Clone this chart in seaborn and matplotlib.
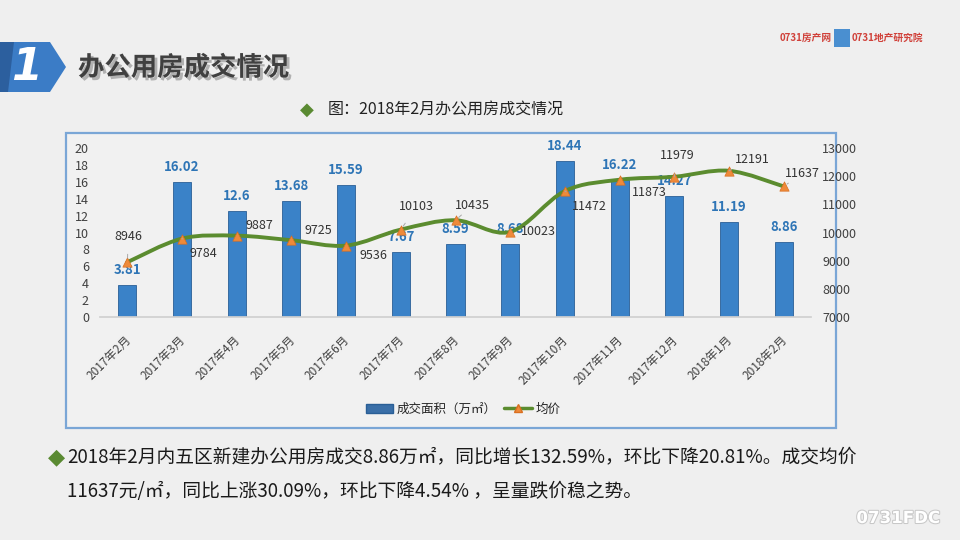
import numpy as np
import pandas as pd
import matplotlib
matplotlib.use("Agg")
import matplotlib.pyplot as plt
import matplotlib.patches as mpatches
import matplotlib.patheffects as pe
import matplotlib.transforms as mtransforms
from matplotlib.path import Path
from matplotlib.lines import Line2D
import seaborn as sns

months = ["2017年2月", "2017年3月", "2017年4月", "2017年5月", "2017年6月", "2017年7月",
          "2017年8月", "2017年9月", "2017年10月", "2017年11月", "2017年12月", "2018年1月", "2018年2月"]
area = [3.81, 16.02, 12.6, 13.68, 15.59, 7.67, 8.59, 8.68, 18.44, 16.22, 14.27, 11.19, 8.86]
price = [8946, 9784, 9887, 9725, 9536, 10103, 10435, 10023, 11472, 11873, 11979, 12191, 11637]
left_ticks = list(range(0, 21, 2))
right_ticks = list(range(7000, 13001, 1000))

sns.set_theme(style="white")
plt.rcParams["font.family"] = ["Noto Sans CJK SC", "DejaVu Sans"]
plt.rcParams["axes.unicode_minus"] = False

BG = "#efefef"
W, H = 960, 540
fig = plt.figure(figsize=(9.6, 5.4), dpi=100, facecolor=BG)

def fx(x):
    return x / W

def fy(y):
    return 1 - y / H

# chart frame
frame = mpatches.Rectangle((fx(66), fy(428)), fx(836) - fx(66), fy(133) - fy(428),
                           transform=fig.transFigure, facecolor="#f1f1f1",
                           edgecolor="#7aa6d6", linewidth=1.6, zorder=-5)
fig.patches.append(frame)

ax = fig.add_axes([fx(100), fy(317), fx(811) - fx(100), fy(148) - fy(317)])
ax.set_facecolor("none")
ax.set_zorder(1)

df = pd.DataFrame({"month": months, "area": area, "price": price})
sns.barplot(data=df, x="month", y="area", color="#3a82c8", width=0.33,
            saturation=1, edgecolor="#2a5f96", linewidth=0.6, ax=ax, zorder=2)
ax.set_xlim(-0.5, len(months) - 0.5)
ax.set_ylim(0, 20)
ax.set_yticks(left_ticks)
ax.set_yticklabels([str(t) for t in left_ticks], fontsize=9, color="#404040")
ax.set_xlabel("")
ax.set_ylabel("")
for s in ["top", "right", "left"]:
    ax.spines[s].set_visible(False)
ax.spines["bottom"].set_color("#d0d0d0")
ax.tick_params(axis="y", length=0, pad=8)
ax.tick_params(axis="x", which="major", length=0, pad=12)
ax.set_xticks(np.arange(-0.5, len(months), 1.0), minor=True)
ax.tick_params(axis="x", which="minor", length=4, color="#d0d0d0", direction="out")
ax.set_xticks(range(len(months)))
ax.set_xticklabels(months, rotation=45, ha="right", fontsize=8.5, color="#404040",
                   fontweight="medium")
shift = mtransforms.ScaledTranslation(6 / 100, 0, fig.dpi_scale_trans)
for lbl in ax.get_xticklabels():
    lbl.set_transform(lbl.get_transform() + shift)

for i, v in enumerate(area):
    ax.annotate(f"{v:g}", (i, v), xytext=(0, 15), textcoords="offset pixels",
                ha="center", va="center", fontsize=9.5, fontweight="bold",
                color="#2e75b6", zorder=5)

ax2 = ax.twinx()
ax2.set_zorder(2)
ax2.set_facecolor("none")
ax2.set_ylim(7000, 13000)
ax2.set_yticks(right_ticks)
ax2.set_yticklabels([str(t) for t in right_ticks], fontsize=9, color="#404040")
ax2.tick_params(axis="y", length=0, pad=8)
for s in ["top", "right", "left", "bottom"]:
    ax2.spines[s].set_visible(False)

# smoothed line (Catmull-Rom as Bezier in data coordinates)
xs = np.arange(len(price), dtype=float)
ys = np.array(price, dtype=float)
pts = np.column_stack([xs, ys])
verts = [tuple(pts[0])]
codes = [Path.MOVETO]
n = len(pts)
for i in range(n - 1):
    p0 = pts[i - 1] if i > 0 else pts[i]
    p1 = pts[i]
    p2 = pts[i + 1]
    p3 = pts[i + 2] if i + 2 < n else pts[i + 1]
    c1 = p1 + (p2 - p0) / 6.0
    c2 = p2 - (p3 - p1) / 6.0
    verts += [tuple(c1), tuple(c2), tuple(p2)]
    codes += [Path.CURVE4] * 3
ax2.add_patch(mpatches.PathPatch(Path(verts, codes), facecolor="none",
                                 edgecolor="#5b8c2f", linewidth=2.8, zorder=3,
                                 capstyle="round", joinstyle="round"))
sns.scatterplot(x=xs, y=ys, marker="^", s=45, color="#ee8a3a", edgecolor="#d96f20",
                linewidth=0.5, ax=ax2, zorder=4, legend=False)
ax2.set_xlim(-0.5, len(months) - 0.5)

# price label offsets (pixels) and whether a leader line is drawn
offsets = [(1, 26, True), (21, -15, True), (23, 10, False), (27, 10, False),
           (27, -10, False), (16, 23, True), (17, 15, True), (28, 0, False),
           (24, -15, True), (30, -13, False), (3, 21, True), (23, 11, True), (19, 13, True)]
for i, v in enumerate(price):
    dx, dy, lead = offsets[i]
    kw = {}
    if lead:
        kw["arrowprops"] = dict(arrowstyle="-", color="#a8a8a8", lw=0.7,
                                shrinkA=6, shrinkB=3)
    ax2.annotate(str(v), (i, v), xytext=(dx, dy), textcoords="offset pixels",
                 ha="center", va="center", fontsize=9, color="#333333",
                 zorder=6, **kw)

# legend
handles = [mpatches.Patch(facecolor="#3a6fa8", edgecolor="#2a5f96"),
           Line2D([0], [0], color="#5b8c2f", lw=2.5, marker="^",
                  markerfacecolor="#ee8a3a", markeredgecolor="#d96f20", markersize=6)]
fig.legend(handles, ["成交面积（万㎡）", "均价"], loc="center",
           bbox_to_anchor=(fx(463), fy(409)), ncol=2, frameon=False,
           fontsize=9, handlelength=2.2, columnspacing=0.6, handletextpad=0.3)

# header badge
badge = mpatches.Polygon([(fx(0), fy(42)), (fx(50), fy(42)), (fx(66), fy(67)),
                          (fx(50), fy(92)), (fx(0), fy(92))], closed=True,
                         transform=fig.transFigure, facecolor="#3b7cc6",
                         edgecolor="none", zorder=1)
fig.patches.append(badge)
strip = mpatches.Polygon([(fx(0), fy(42)), (fx(14), fy(42)), (fx(8), fy(92)), (fx(0), fy(92))],
                         closed=True, transform=fig.transFigure, facecolor="#2c5f9e",
                         edgecolor="none", zorder=1)
fig.patches.append(strip)
fig.text(fx(27), fy(68), "1", fontsize=32, fontweight="bold", style="italic",
         color="white", ha="center", va="center", family=["DejaVu Sans"])
fig.text(fx(78), fy(68), "办公用房成交情况", fontsize=19, fontweight="bold",
         color="#404040", ha="left", va="center",
         path_effects=[pe.SimplePatchShadow(offset=(2, -2), shadow_rgbFace="#888888", alpha=0.6),
                       pe.Normal()])

# logos (approximate, text only)
fig.text(fx(780), fy(38), "0731房产网", fontsize=7, color="#d0413a", fontweight="bold",
         ha="left", va="center")
fig.text(fx(852), fy(38), "0731地产研究院", fontsize=7, color="#d0413a", fontweight="bold",
         ha="left", va="center")
fig.patches.append(mpatches.Rectangle((fx(852) - fx(18), fy(47)), fx(16), fy(29) - fy(47),
                                      transform=fig.transFigure, facecolor="#4a8fd0",
                                      edgecolor="none"))

# chart title
fig.text(fx(307), fy(110), "◆", fontsize=13, color="#5a8a32", ha="center", va="center",
         family=["DejaVu Sans"])
fig.text(fx(328), fy(110), "图：2018年2月办公用房成交情况", fontsize=11.5, color="#222222",
         ha="left", va="center")

# paragraph
fig.text(fx(56), fy(457), "◆", fontsize=16, color="#5a8a32", ha="center", va="center",
         family=["DejaVu Sans"])
fig.text(fx(67), fy(457),
         "2018年2月内五区新建办公用房成交8.86万㎡，同比增长132.59%，环比下降20.81%。成交均价",
         fontsize=13.5, color="#1a1a1a", ha="left", va="center")
fig.text(fx(67), fy(491), "11637元/㎡，同比上涨30.09%，环比下降4.54% ，呈量跌价稳之势。",
         fontsize=13.5, color="#1a1a1a", ha="left", va="center")

fig.text(fx(940), fy(518), "0731FDC", fontsize=12, fontweight="bold", color="white",
         ha="right", va="center", family=["DejaVu Sans"],
         path_effects=[pe.withStroke(linewidth=1.5, foreground="#c8c8c8")])

fig.savefig("out.png", dpi=100, facecolor=BG)
